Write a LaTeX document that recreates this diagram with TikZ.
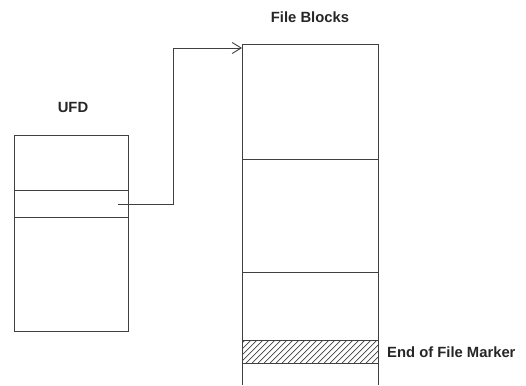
\documentclass[tikz,border=0pt]{standalone}
\usepackage{fontspec}
\setmainfont{Liberation Sans}
\usetikzlibrary{arrows.meta}
\begin{document}
\begin{tikzpicture}[x=1pt,y=-1pt,
  ln/.style={draw=black!75,line width=0.9pt},
  lbl/.style={font=\bfseries\fontsize{14.8}{17}\selectfont,text=black!85,inner sep=0pt},
  hatchline/.style={draw=black!75,line width=0.7pt}]
\useasboundingbox (0,0) rectangle (526,385);
% UFD
\node[lbl] (ufdlabel) at (73,107) {UFD};
\node[ln,minimum width=114pt,minimum height=196pt,inner sep=0pt,anchor=north west] (ufd) at (14,135) {};
\draw[ln] (14,190) -- (128,190);
\draw[ln] (14,217) -- (128,217);
% File blocks
\node[lbl] (fblabel) at (310,17) {File Blocks};
\coordinate (fbtl) at (242,44);
\coordinate (fbtr) at (378,44);
\coordinate (fbbl) at (242,385);
\coordinate (fbbr) at (378,385);
\draw[ln] (fbbl) -- (fbtl) -- (fbtr) -- (fbbr);
\draw[ln] (242,159) -- (378,159);
\draw[ln] (242,272) -- (378,272);
% hatched marker
\begin{scope}
\clip (242,340) rectangle (378,363);
\foreach \i in {-30,-24,...,400} {
  \draw[hatchline] (\i,363) -- (\i+23,340);
}
\end{scope}
\draw[ln] (242,340) -- (378,340);
\draw[ln] (242,363) -- (378,363);
\node[lbl,anchor=west] (eof) at (387,352) {End of File Marker};
% connector
\coordinate (src) at (118,204);
\coordinate (dst) at (242,48);
\draw[ln,-{Straight Barb[length=9pt,width=11pt,line width=0.9pt]}] (src) -- (173,204) -- (173,48) -- (dst);
\end{tikzpicture}
\end{document}
